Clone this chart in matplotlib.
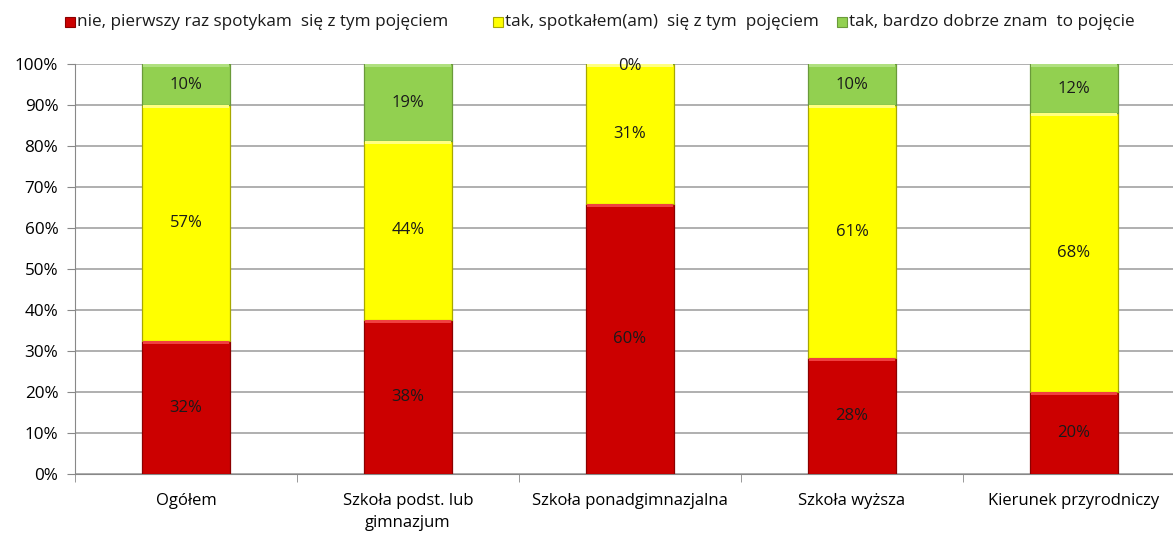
import matplotlib
matplotlib.use("Agg")
import matplotlib.pyplot as plt
import numpy as np
from matplotlib.ticker import MultipleLocator, FuncFormatter
from matplotlib.patches import Rectangle

categories = ["Ogółem", "Szkoła podst. lub\ngimnazjum", "Szkoła ponadgimnazjalna",
              "Szkoła wyższa", "Kierunek przyrodniczy"]
series_names = ["nie, pierwszy raz spotykam  się z tym pojęciem",
                "tak, spotkałem(am)  się z tym  pojęciem",
                "tak, bardzo dobrze znam  to pojęcie"]
nie = [32, 38, 60, 28, 20]
tak_spot = [57, 44, 31, 61, 68]
tak_dobrze = [10, 19, 0, 10, 12]

colors = ["#CC0000", "#FFFF00", "#92D050"]
edges = ["#8B0000", "#A8A800", "#6A9A3A"]
highlights = ["#F04040", "#FFFF80", "#B0E080"]

W, H = 1173, 534
plt.rcParams['font.family'] = ['Open Sans', 'DejaVu Sans']
FS = 12.3
fig = plt.figure(figsize=(W / 100, H / 100), dpi=100)
ax = fig.add_axes([75 / W, 1 - 474 / H, (1185 - 75) / W, (474 - 64) / H])

data = np.array([nie, tak_spot, tak_dobrze], dtype=float)
totals = data.sum(axis=0)
frac = data / totals
x = np.arange(len(categories))
bottom = np.zeros(len(categories))
width = 0.40
for i in range(3):
    ax.bar(x, frac[i], width, bottom=bottom, color=colors[i], edgecolor=edges[i],
           linewidth=0.9, zorder=3)
    # bevel highlight at the top of each segment
    hl = np.minimum(frac[i], 0.007)
    ax.bar(x, hl, width * 0.96, bottom=bottom + frac[i] - hl, color=highlights[i],
           linewidth=0, zorder=3.5)
    for j in range(len(categories)):
        yc = bottom[j] + frac[i][j] / 2
        if frac[i][j] == 0:
            yc = bottom[j] - 0.004
        ax.text(x[j], yc, f"{int(data[i][j])}%", ha="center", va="center",
                fontsize=12, color="#1a1a1a", zorder=4)
    bottom += frac[i]

ax.set_xlim(-0.5, len(categories) - 0.5)
ax.set_ylim(0, 1)
ax.yaxis.set_major_locator(MultipleLocator(0.1))
ax.yaxis.set_major_formatter(FuncFormatter(lambda v, p: f"{int(round(v * 100))}%"))
ax.grid(axis="y", color="#9a9a9a", linewidth=1.1, zorder=0)
ax.set_axisbelow(True)
for s in ["top", "right"]:
    ax.spines[s].set_visible(False)
ax.spines["left"].set_color("#888888")
ax.spines["bottom"].set_color("#888888")
ax.tick_params(axis="y", length=6, color="#888888", labelsize=FS, pad=6)
ax.set_xticks(x)
ax.set_xticklabels(categories, fontsize=12, linespacing=1.5)
ax.tick_params(axis="x", length=0, pad=14)
ax.set_xticks(np.arange(len(categories) + 1) - 0.5, minor=True)
ax.tick_params(axis="x", which="minor", length=6, color="#888888")

# legend drawn manually at the top
leg_marker_x = [65, 493, 837]
leg_y = 22
for i in range(3):
    fig.patches.append(Rectangle((leg_marker_x[i] / W, 1 - (leg_y + 5) / H), 10 / W, 10 / H,
                                 transform=fig.transFigure, facecolor=colors[i],
                                 edgecolor=edges[i], linewidth=0.8))
    fig.text((leg_marker_x[i] + 12) / W, 1 - leg_y / H, series_names[i], ha="left",
             va="center", fontsize=FS, color="#1a1a1a")

fig.savefig("out.png", dpi=100)
